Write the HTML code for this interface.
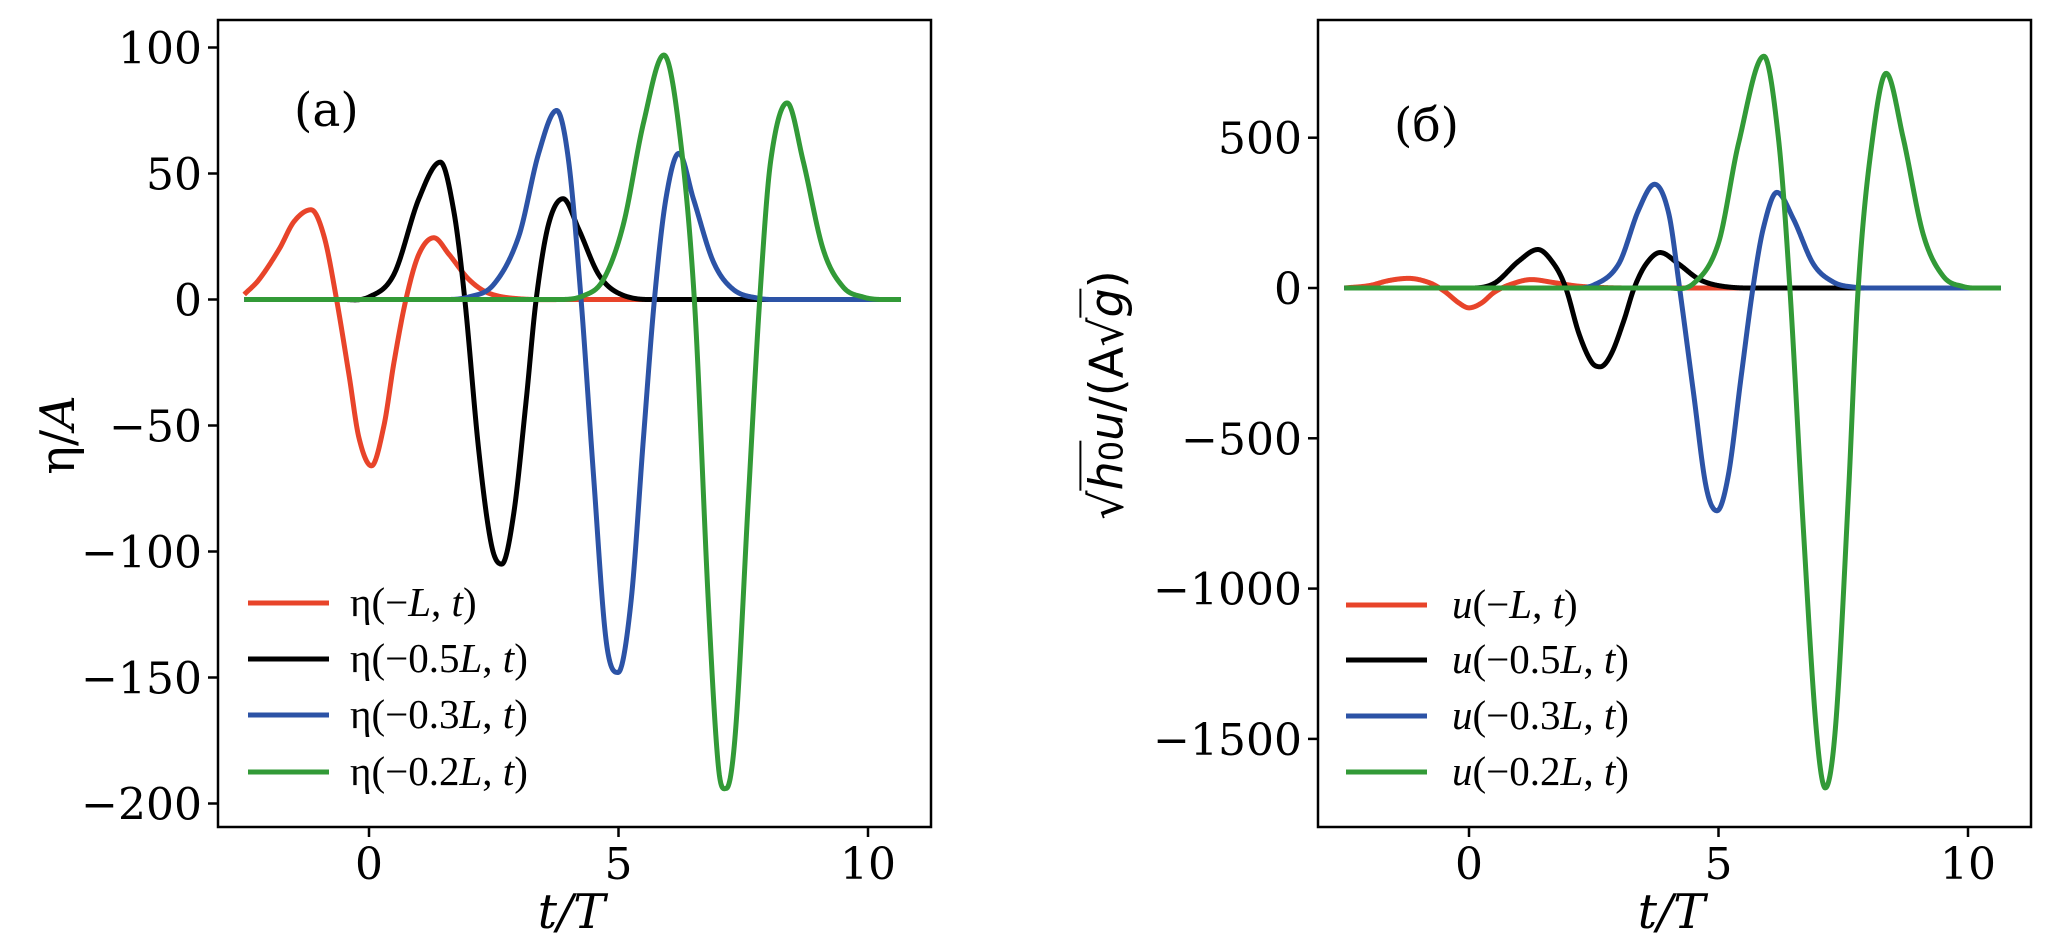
<!DOCTYPE html>
<html><head><meta charset="utf-8">
<style>
html,body{margin:0;padding:0;background:#fff;}
body{width:2067px;height:947px;position:relative;overflow:hidden;}
svg text{font-family:"DejaVu Serif","Liberation Serif",serif;}
.ylab2{position:absolute;left:1107px;top:395px;transform:translate(-50%,-50%) rotate(-90deg);white-space:nowrap;font-family:"DejaVu Sans","Liberation Sans",sans-serif;font-size:46px;color:#000;line-height:1.2;}
.ov{display:inline-block;border-top:2.5px solid #000;line-height:1.1;}
</style></head><body>
<svg id="chart" width="2067" height="947" viewBox="0 0 2067 947" xmlns="http://www.w3.org/2000/svg"></svg>
<div class="ylab2">√<span class="ov"><i>h</i><span style="font-size:32px">0</span></span><i>u</i>/(A√<span class="ov"><i>g</i></span>)</div>
<script>
// ---- data: panel (a) eta ----
const etaRedT = [-2.5,-2.2,-1.8,-1.5,-1.16,-0.9,-0.65,-0.4,-0.2,0.05,0.3,0.5,0.74,1.0,1.3,1.6,2.0,2.4,3.0,4.0,10.66];
const etaRedV = [2,8,20,31,35.6,25,0,-30,-55,-66,-50,-25,0,18,24.5,18,8,2.5,0.3,0,0];
const etaBlackT = [-2.5,-0.5,0,0.5,1.0,1.43,1.7,1.92,2.2,2.45,2.66,2.9,3.15,3.35,3.6,3.89,4.2,4.6,5.0,5.6,10.66];
const etaBlackV = [0,0,1,10,40,54.5,35,0,-60,-97,-105,-85,-40,0,30,40,28,10,2.5,0,0];
const etaBlueT = [-2.5,1.5,2.0,2.5,3.0,3.4,3.76,4.0,4.25,4.5,4.75,4.99,5.25,5.5,5.72,5.95,6.21,6.5,6.9,7.3,7.8,8.2,10.66];
const etaBlueV = [0,0,1,6,25,58,75,55,0,-70,-135,-148,-120,-55,0,40,58,40,15,4,0.5,0,0];
const etaGreenT = [-2.5,3.8,4.3,4.7,5.1,5.5,5.91,6.2,6.52,6.8,7.0,7.16,7.35,7.6,7.83,8.05,8.38,8.7,9.1,9.5,9.9,10.3,10.66];
const etaGreenV = [0,0,1.5,8,30,70,97,70,0,-120,-185,-194,-170,-80,0,55,78,55,20,5,1,0,0];
// ---- data: panel (б) u ----
const uRedT = [-2.5,-2.0,-1.6,-1.21,-0.8,-0.5,-0.2,0,0.25,0.5,0.8,1.25,1.7,2.2,2.8,3.5,10.66];
const uRedV = [0,8,25,32,18,-10,-50,-66,-50,-15,10,28,18,6,1,0,0];
const uBlackT = [-2.5,0,0.5,1.0,1.38,1.7,1.94,2.2,2.45,2.63,2.85,3.1,3.31,3.55,3.83,4.2,4.6,5.0,5.6,10.66];
const uBlackV = [0,0,15,90,128,80,0,-150,-245,-262,-220,-110,0,80,118,80,30,8,0,0];
const uBlueT = [-2.5,2.0,2.5,3.0,3.4,3.72,4.0,4.22,4.5,4.75,4.97,5.2,5.45,5.69,5.9,6.17,6.5,6.9,7.3,7.7,8.2,10.66];
const uBlueV = [0,0,10,80,260,345,250,0,-350,-660,-741,-620,-300,0,200,318,230,80,20,3,0,0];
const uGreenT = [-2.5,4.0,4.5,5.0,5.4,5.91,6.2,6.43,6.7,6.95,7.14,7.35,7.6,7.8,8.05,8.36,8.7,9.1,9.5,9.9,10.3,10.66];
const uGreenV = [0,0,15,150,480,771,500,0,-800,-1450,-1663,-1450,-700,0,450,714,500,180,40,5,0,0];
// ---- ticks ----
const xTicks = [0,5,10];
const etaTicks = [100,50,0,-50,-100,-150,-200];
const uTicks = [500,0,-500,-1000,-1500];
const etaLegend = ["η(−<i>L</i>, <i>t</i>)","η(−0.5<i>L</i>, <i>t</i>)","η(−0.3<i>L</i>, <i>t</i>)","η(−0.2<i>L</i>, <i>t</i>)"];
const uLegend = ["<i>u</i>(−<i>L</i>, <i>t</i>)","<i>u</i>(−0.5<i>L</i>, <i>t</i>)","<i>u</i>(−0.3<i>L</i>, <i>t</i>)","<i>u</i>(−0.2<i>L</i>, <i>t</i>)"];

const NS = "http://www.w3.org/2000/svg";
const svg = document.getElementById('chart');
const colors = ["#e8442a","#000000","#2c53a6","#329a37"];
const colorNames = ["red","black","blue","green"];

function mk(tag, attrs, parent){
  const e = document.createElementNS(NS, tag);
  for (const k in attrs) e.setAttribute(k, attrs[k]);
  (parent||svg).appendChild(e);
  return e;
}
// smooth cubic Hermite interpolation (zero slope at local extrema)
function smooth(xs, ys){
  const n = xs.length, d=[], m=[];
  for(let i=0;i<n-1;i++) d.push((ys[i+1]-ys[i])/(xs[i+1]-xs[i]));
  m[0]=d[0]; m[n-1]=d[n-2];
  for(let i=1;i<n-1;i++){
    if(d[i-1]*d[i]<=0){ m[i]=0; }
    else { m[i]=(ys[i+1]-ys[i-1])/(xs[i+1]-xs[i-1]); }
  }
  return function(x){
    let i=0; while(i<n-2 && x>xs[i+1]) i++;
    const h=xs[i+1]-xs[i], t=(x-xs[i])/h, t2=t*t, t3=t2*t;
    return (2*t3-3*t2+1)*ys[i]+(t3-2*t2+t)*h*m[i]+(-2*t3+3*t2)*ys[i+1]+(t3-t2)*h*m[i+1];
  };
}

function panel(cfg){
  const {x0,x1,y0,y1,xz,xs,yz,ys,series,yticks,legend,legX,legTxtX,legY,label,labX,labY,id} = cfg;
  const X = t => xz + t*xs;
  const Y = v => yz - v*ys;
  const g = mk('g',{});
  
  
  const cp = mk('clipPath',{id:'clip-'+id}, g);
  mk('rect',{x:x0,y:y0,width:x1-x0,height:y1-y0}, cp);
  series.forEach((s,k)=>{
    const f = smooth(s[0], s[1]);
    const tmin=s[0][0], tmax=s[0][s[0].length-1];
    let pts=[];
    for(let t=tmin;t<=tmax+1e-9;t+=0.01) pts.push(X(t).toFixed(2)+','+Y(f(t)).toFixed(2));
    const pl = mk('polyline',{points:pts.join(' '),fill:'none',stroke:colors[k],'stroke-width':5,'stroke-linejoin':'round','clip-path':'url(#clip-'+id+')'}, g);
    
    
  });
  const fr = mk('rect',{x:x0,y:y0,width:x1-x0,height:y1-y0,fill:'none',stroke:'#000','stroke-width':2.5}, g);
  
  
  xTicks.forEach(t=>{
    mk('line',{x1:X(t),x2:X(t),y1:y1,y2:y1+10,stroke:'#000','stroke-width':2.5}, g);
    const tx = mk('text',{x:X(t),y:y1+52,'text-anchor':'middle','font-size':44}, g);
    tx.textContent = String(t);
    
    
  });
  yticks.forEach(v=>{
    mk('line',{x1:x0-10,x2:x0,y1:Y(v),y2:Y(v),stroke:'#000','stroke-width':2.5}, g);
    const tx = mk('text',{x:x0-16,y:Y(v)+16,'text-anchor':'end','font-size':44}, g);
    tx.textContent = v<0 ? '−'+Math.abs(v) : String(v);
    
    
  });
  legend.forEach((txt,k)=>{
    const y = legY[k];
    const ln = mk('line',{x1:legX[0],x2:legX[1],y1:y,y2:y,stroke:colors[k],'stroke-width':5}, g);
    
    
    const fo = mk('foreignObject',{x:legTxtX,y:y-31,width:420,height:62}, g);
    const d = document.createElement('div');
    d.style.cssText = 'font-family:"Liberation Serif",serif;font-size:41px;line-height:60px;color:#000;white-space:nowrap;';
    d.innerHTML = txt;
    
    
    fo.appendChild(d);
  });
  const lb = mk('text',{x:labX,y:labY,'font-size':47}, g);
  lb.textContent = label;
  
  
  const xl = mk('text',{x:(x0+x1)/2-3,y:928,'text-anchor':'middle','font-size':48,'font-style':'italic'}, g);
  xl.textContent = 't/T';
  
  
}

panel({id:'eta',x0:218,x1:931,y0:20,y1:827,xz:369,xs:49.9,yz:299.5,ys:2.52,
  series:[[etaRedT,etaRedV],[etaBlackT,etaBlackV],[etaBlueT,etaBlueV],[etaGreenT,etaGreenV]],
  yticks:etaTicks,legend:etaLegend,legX:[248,329],legTxtX:350,legY:[603,659,715,772],
  label:'(a)',labX:294,labY:126});
panel({id:'u',x0:1318,x1:2031,y0:20,y1:827,xz:1469,xs:49.9,yz:288,ys:0.3006,
  series:[[uRedT,uRedV],[uBlackT,uBlackV],[uBlueT,uBlueV],[uGreenT,uGreenV]],
  yticks:uTicks,legend:uLegend,legX:[1346,1427],legTxtX:1452,legY:[605,660,716,772],
  label:'(б)',labX:1394,labY:141});

const yl = mk('text',{x:0,y:0,'text-anchor':'middle','font-size':48,transform:'translate(74,435) rotate(-90)'});
yl.innerHTML = 'η/<tspan font-style="italic">A</tspan>';


</script>
</body></html>
